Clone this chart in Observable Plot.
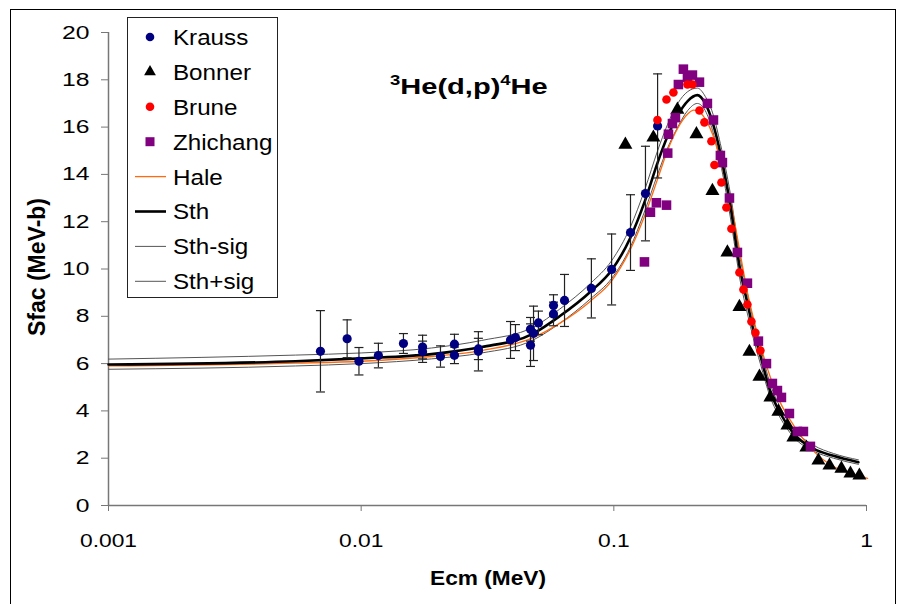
<!DOCTYPE html>
<html><head><meta charset="utf-8">
<script src="https://cdn.jsdelivr.net/npm/d3@7"></script>
<script src="https://cdn.jsdelivr.net/npm/@observablehq/plot@0.6"></script>
<style>
body{margin:0;background:#fff;font-family:"Liberation Sans",Arial,sans-serif;}
#wrap{position:relative;width:899px;height:604px;overflow:hidden;background:#fff;}
#frame{position:absolute;left:10px;top:9px;width:886px;height:640px;border:1.5px solid #000;box-sizing:border-box;}
#chart{position:absolute;left:0;top:0;}
#title{position:absolute;left:390px;top:74px;font-weight:bold;font-size:22px;white-space:nowrap;transform:scaleX(1.32);transform-origin:0 50%;}
#title sup{font-size:14px;vertical-align:9px;line-height:0;}
#xlab{position:absolute;left:388px;width:200px;text-align:center;top:566px;font-weight:bold;font-size:21px;transform:scaleX(1.08);}
#ylab{position:absolute;left:37px;top:267px;font-weight:bold;font-size:23px;white-space:nowrap;transform:translate(-50%,-50%) rotate(-90deg);}
#legend{position:absolute;left:127px;top:17px;}
#chart svg g[aria-label="x-axis tick"], #chart svg g[aria-label="y-axis tick"]{stroke:#777;}
#chart svg g[aria-label="x-axis"] line, #chart svg g[aria-label="y-axis"] line{stroke:#777;}
</style></head>
<body>
<div id="wrap">
  <div id="frame"></div>
  <div id="chart"></div>
  <div id="title"><sup>3</sup>He(d,p)<sup>4</sup>He</div>
  <div id="xlab">Ecm (MeV)</div>
  <div id="ylab">Sfac (MeV-b)</div>
  <div id="legend"></div>
</div>
<script>
// ---- Data ----
const xTicks = [0.001, 0.01, 0.1, 1];
const xTickLabels = ["0.001", "0.01", "0.1", "1"];
const yTicks = [0, 2, 4, 6, 8, 10, 12, 14, 16, 18, 20];

// Krauss (with error bars)
const krE = [0.0069,0.0088,0.0098,0.0117,0.0147,0.0175,0.0175,0.0206,0.0234,0.0234,0.0291,0.0291,0.039,0.0408,0.0468,0.0468,0.0481,0.0503,0.0577,0.0577,0.0638,0.0815,0.098,0.1164,0.1334,0.149];
const krS = [6.52,7.05,6.1,6.34,6.85,6.7,6.5,6.3,6.82,6.35,6.62,6.52,7.0,7.1,7.45,6.78,7.28,7.72,8.46,8.1,8.67,9.18,9.98,11.54,13.19,16.05];
const krErr = [1.72,0.8,0.58,0.52,0.42,0.5,0.45,0.45,0.42,0.35,0.45,0.83,0.78,0.55,0.5,0.9,1.15,0.5,0.45,0.5,1.1,1.25,1.5,1.6,2.0,2.2];

// Bonner
const bnE = [0.1111,0.1434,0.1785,0.2123,0.2456,0.2815,0.3141,0.3441,0.3769,0.4166,0.4481,0.4864,0.5136,0.5783,0.6452,0.7134,0.7956,0.8637,0.9374];
const bnS = [15.26,15.56,16.74,15.7,13.3,10.7,8.4,6.5,5.45,4.57,3.97,3.38,2.88,2.45,1.9,1.69,1.56,1.35,1.27];

// Brune
const brE = [0.1488,0.1616,0.1721,0.1956,0.2047,0.2182,0.2283,0.2434,0.2501,0.2666,0.2790,0.2920,0.3141,0.3258,0.3378,0.3504,0.3634,0.3803];
const brS = [16.3,17.17,17.46,17.8,17.8,16.7,16.2,15.4,14.4,13.66,12.6,11.7,9.85,9.13,8.5,7.78,7.3,6.55];

// Zhichang
const zhE = [0.1322,0.1396,0.1474,0.1616,0.1634,0.1645,0.1706,0.1753,0.1801,0.1885,0.1956,0.2047,0.2182,0.2346,0.2479,0.2641,0.2690,0.2868,0.3084,0.3378,0.3734,0.4018,0.4242,0.4441,0.4606,0.4953,0.5327,0.5627,0.5998];
const zhS = [10.3,12.4,12.8,12.7,14.9,15.7,16.15,16.4,17.8,18.45,18.1,18.2,17.9,17.0,16.3,14.8,14.5,13.0,10.7,9.4,6.95,6.0,5.16,4.86,4.57,3.89,3.13,3.13,2.5];

// Theory curves
const curveE = [0.001,0.0055,0.01,0.019,0.03,0.048,0.061,0.081,0.098,0.116,0.133,0.149,0.163,0.179,0.196,0.214,0.230,0.246,0.264,0.289,0.317,0.338,0.357,0.380,0.417,0.456,0.514,0.617,0.740,0.929];
const sth      = [5.96,6.1,6.22,6.4,6.7,7.27,8.0,9.05,9.95,11.3,12.9,14.5,15.6,16.5,17.1,17.35,17.0,16.2,14.9,12.7,9.9,8.55,7.4,6.35,4.8,3.9,3.05,2.4,2.1,1.83];
const sthPlus  = [6.19,6.36,6.45,6.66,6.98,7.54,8.3,9.4,10.35,11.75,13.4,15.0,16.1,17.0,17.5,17.65,17.3,16.6,15.3,13.2,10.4,8.95,7.8,6.7,5.1,4.15,3.25,2.55,2.2,1.93];
const sthMinus = [5.76,5.9,6.0,6.2,6.45,7.0,7.7,8.75,9.6,10.9,12.5,14.0,15.1,16.0,16.7,17.0,16.7,15.85,14.5,12.2,9.45,8.1,7.05,6.0,4.55,3.7,2.9,2.3,2.0,1.74];
const haleE = [0.001,0.0055,0.01,0.019,0.03,0.048,0.061,0.081,0.098,0.116,0.133,0.149,0.163,0.179,0.196,0.207,0.214,0.230,0.246,0.264,0.289,0.317,0.338,0.357,0.380,0.417,0.456,0.514,0.617,0.740,0.929,1.01];
const hale  = [5.9,6.02,6.1,6.3,6.55,7.1,7.7,8.65,9.5,10.8,12.3,13.8,15.0,15.95,16.55,16.72,16.7,16.35,15.7,14.6,12.9,10.6,9.0,7.9,6.8,5.4,4.35,3.4,2.3,1.65,1.25,1.15];

const legendNames = ["Krauss","Bonner","Brune","Zhichang","Hale","Sth","Sth-sig","Sth+sig"];

// ---- Build tables ----
const krauss = krE.map((E,i)=>({E, S:krS[i], err:krErr[i]}));
const caps = krauss.flatMap(d=>[{E:d.E,S:d.S+d.err},{E:d.E,S:d.S-d.err}]);
const bonner = bnE.map((E,i)=>({E,S:bnS[i]}));
const brune = brE.map((E,i)=>({E,S:brS[i]}));
const zhichang = zhE.map((E,i)=>({E,S:zhS[i]}));
const lineOf = (ys)=>curveE.map((E,i)=>({E,S:ys[i]}));
const haleLine = haleE.map((E,i)=>({E,S:hale[i]}));

const capSymbol = {draw(ctx){ ctx.moveTo(-4.5,0); ctx.lineTo(4.5,0); }};

const chart = Plot.plot({
  width: 899, height: 604,
  marginLeft: 108, marginRight: 33, marginTop: 32, marginBottom: 99,
  style: {fontFamily: "'Liberation Sans', Arial, sans-serif", fontSize: "19px", color: "#000", background: "transparent", overflow: "visible"},
  x: {type: "log", domain: [0.001, 1], ticks: xTicks, tickFormat: d => xTickLabels[xTicks.findIndex(t => Math.abs(t - d) < 1e-12)], tickSize: 6, tickPadding: 22, label: null},
  y: {domain: [0, 20], ticks: yTicks, tickSize: 7, tickPadding: 12, label: null},
  marks: [
    Plot.ruleX([0.001], {stroke: "#777", strokeWidth: 1.5}),
    Plot.ruleY([0], {stroke: "#777", strokeWidth: 1.5}),
    Plot.line(lineOf(sthPlus), {x: "E", y: "S", stroke: "#555", strokeWidth: 1, curve: "monotone-x"}),
    Plot.line(lineOf(sthMinus), {x: "E", y: "S", stroke: "#555", strokeWidth: 1, curve: "monotone-x"}),
    Plot.line(haleLine, {x: "E", y: "S", stroke: "#FF6A10", strokeWidth: 1.3, curve: "monotone-x"}),
    Plot.line(lineOf(sth), {x: "E", y: "S", stroke: "#000", strokeWidth: 2.6, curve: "monotone-x"}),
    Plot.ruleX(krauss, {x: "E", y1: d => d.S - d.err, y2: d => d.S + d.err, stroke: "#222", strokeWidth: 1.2}),
    Plot.dot(caps, {x: "E", y: "S", symbol: capSymbol, stroke: "#222", strokeWidth: 1.2, fill: "none"}),
    Plot.dot(krauss, {x: "E", y: "S", r: 4.6, fill: "#000080", stroke: "none"}),
    Plot.dot(bonner, {x: "E", y: "S", symbol: "triangle", r: 5.2, fill: "#000", stroke: "none"}),
    Plot.dot(zhichang, {x: "E", y: "S", symbol: "square", r: 5.4, fill: "#800080", stroke: "none"}),
    Plot.dot(brune, {x: "E", y: "S", r: 4.3, fill: "#FF0000", stroke: "none"})
  ]
});
document.getElementById("chart").appendChild(chart);

// stretch axis tick labels horizontally (the reference glyphs are wide)
function stretchText(sel, sx) {
  sel.forEach(t => {
    const tr = t.getAttribute("transform");
    if (tr) t.setAttribute("transform", tr + ` scale(${sx},1)`);
    else {
      const x = +(t.getAttribute("x") || 0);
      t.setAttribute("transform", `translate(${x},0) scale(${sx},1) translate(${-x},0)`);
    }
  });
}
const xLabels = [...chart.querySelectorAll('g[aria-label^="x-axis"] text')];
const yLabels = [...chart.querySelectorAll('g[aria-label^="y-axis"] text')];
stretchText(xLabels, 1.2);
stretchText(yLabels, 1.3);

// ---- Legend ----
const lg = d3.select("#legend").append("svg").attr("width", 151).attr("height", 281);
lg.append("rect").attr("x", 0.5).attr("y", 0.5).attr("width", 150).attr("height", 280).attr("fill", "#fff").attr("stroke", "#222").attr("stroke-width", 1);
const rowY = i => 20 + i * 34.9;
const mx = 23;
legendNames.forEach((name, i) => {
  const y = rowY(i);
  if (i === 0) lg.append("circle").attr("cx", mx).attr("cy", y).attr("r", 4.3).attr("fill", "#000080");
  if (i === 1) lg.append("path").attr("transform", `translate(${mx},${y})`).attr("d", d3.symbol(d3.symbolTriangle, 60)()).attr("fill", "#000");
  if (i === 2) lg.append("circle").attr("cx", mx).attr("cy", y).attr("r", 4.3).attr("fill", "#FF0000");
  if (i === 3) lg.append("rect").attr("x", mx - 4.5).attr("y", y - 4.5).attr("width", 9).attr("height", 9).attr("fill", "#800080");
  if (i >= 4) {
    const col = i === 4 ? "#FF6A10" : i === 5 ? "#000" : "#555";
    const w = i === 5 ? 2.6 : i === 4 ? 1.3 : 1;
    lg.append("line").attr("x1", 8).attr("x2", 39).attr("y1", y).attr("y2", y).attr("stroke", col).attr("stroke-width", w);
  }
  lg.append("text").attr("x", 46).attr("y", y).attr("dy", "0.36em").attr("font-size", 22)
    .attr("font-family", "'Liberation Sans', Arial, sans-serif")
    .attr("transform", `translate(46,0) scale(1.1,1) translate(-46,0)`).text(name);
});
</script>
</body></html>
